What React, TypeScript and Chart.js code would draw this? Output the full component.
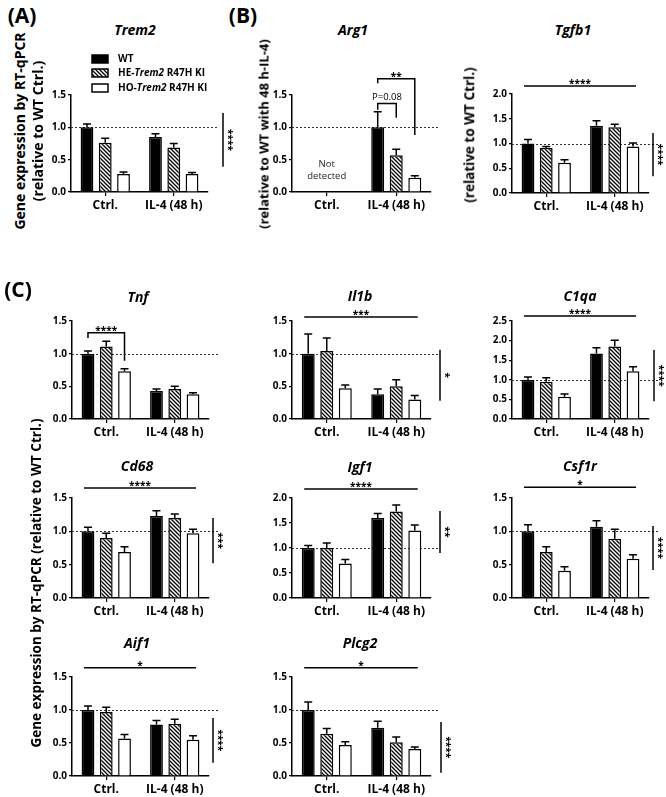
import React, { useEffect, useRef } from 'react';
import { Chart, registerables } from 'chart.js';

Chart.register(...registerables);

const FONT = '"Open Sans", "DejaVu Sans", sans-serif';

// ---------- data ----------
const categories = ['Ctrl.', 'IL-4 (48 h)'];
const genotypes = ['WT', 'HE-Trem2 R47H KI', 'HO-Trem2 R47H KI'];

// rows: WT, HE, HO ; columns: Ctrl., IL-4 (48 h)
const trem2Mean = [[1.0, 0.85], [0.76, 0.69], [0.28, 0.28]];
const trem2Sem = [[0.05, 0.05], [0.07, 0.06], [0.03, 0.02]];

const arg1Mean = [[null, 1.0], [null, 0.57], [null, 0.22]];
const arg1Sem = [[null, 0.24], [null, 0.09], [null, 0.03]];

const tgfb1Mean = [[1.0, 1.36], [0.91, 1.33], [0.61, 0.94]];
const tgfb1Sem = [[0.08, 0.1], [0.03, 0.06], [0.06, 0.07]];

const tnfMean = [[1.0, 0.43], [1.11, 0.46], [0.73, 0.38]];
const tnfSem = [[0.04, 0.03], [0.08, 0.04], [0.04, 0.02]];

const il1bMean = [[1.0, 0.38], [1.04, 0.5], [0.47, 0.3]];
const il1bSem = [[0.3, 0.08], [0.2, 0.1], [0.05, 0.06]];

const c1qaMean = [[1.0, 1.67], [0.95, 1.85], [0.57, 1.22]];
const c1qaSem = [[0.07, 0.15], [0.1, 0.16], [0.07, 0.11]];

const cd68Mean = [[1.0, 1.23], [0.9, 1.2], [0.69, 0.97]];
const cd68Sem = [[0.06, 0.08], [0.07, 0.06], [0.08, 0.06]];

const igf1Mean = [[1.0, 1.6], [1.0, 1.73], [0.69, 1.35]];
const igf1Sem = [[0.05, 0.09], [0.1, 0.13], [0.08, 0.11]];

const csf1rMean = [[1.0, 1.07], [0.69, 0.89], [0.41, 0.59]];
const csf1rSem = [[0.1, 0.09], [0.08, 0.14], [0.06, 0.06]];

const aif1Mean = [[1.0, 0.78], [0.97, 0.79], [0.57, 0.55]];
const aif1Sem = [[0.06, 0.06], [0.07, 0.07], [0.06, 0.06]];

const plcg2Mean = [[1.0, 0.73], [0.64, 0.51], [0.47, 0.41]];
const plcg2Sem = [[0.12, 0.1], [0.08, 0.08], [0.05, 0.03]];

// ---------- layout ----------
const YW = 34; // y axis box width
const XH = 26; // x axis box height
const PT = 48; // room above plot
const PR = 40; // room right of plot

type Bracket = { cat: number; a: number; b: number; top: number; legA: number; legB: number; text: string; stars: boolean };
type PanelCfg = {
  key: string;
  title: string;
  titleX: number;
  titleY: number;
  axisX: number;
  yTop: number;
  plotW: number;
  plotH: number;
  max: number;
  mean: (number | null)[][];
  sem: (number | null)[][];
  hline?: { y: number; text: string };
  vline?: { from: number; to: number; text: string; dx: number };
  brackets?: Bracket[];
  note?: { cat: number; ys: number[]; lines: string[] };
  legend?: boolean;
};

const panels: PanelCfg[] = [
  { key: 'trem2', title: 'Trem2', titleX: 135, titleY: 30, axisX: 71, yTop: 95, plotW: 137, plotH: 97, max: 1.5,
    mean: trem2Mean, sem: trem2Sem, vline: { from: 1.22, to: 0.39, text: '****', dx: 15 }, legend: true },
  { key: 'arg1', title: 'Arg1', titleX: 353, titleY: 30, axisX: 292, yTop: 95, plotW: 139, plotH: 97, max: 1.5,
    mean: arg1Mean, sem: arg1Sem,
    brackets: [
      { cat: 1, a: 0, b: 1, top: 1.37, legA: 1.27, legB: 1.15, text: 'P=0.08', stars: false },
      { cat: 1, a: 0, b: 2, top: 1.75, legA: 1.68, legB: 0.88, text: '**', stars: true },
    ],
    note: { cat: 0, ys: [0.43, 0.25], lines: ['Not', 'detected'] } },
  { key: 'tgfb1', title: 'Tgfb1', titleX: 573, titleY: 30, axisX: 512, yTop: 94, plotW: 137, plotH: 99, max: 2.0,
    mean: tgfb1Mean, sem: tgfb1Sem, hline: { y: 2.16, text: '****' }, vline: { from: 1.21, to: 0.34, text: '****', dx: 4 } },
  { key: 'tnf', title: 'Tnf', titleX: 138, titleY: 297, axisX: 72, yTop: 321, plotW: 137, plotH: 98, max: 1.5,
    mean: tnfMean, sem: tnfSem, brackets: [{ cat: 0, a: 0, b: 2, top: 1.32, legA: 1.24, legB: 0.89, text: '****', stars: true }] },
  { key: 'il1b', title: 'Il1b', titleX: 360, titleY: 296, axisX: 292, yTop: 321, plotW: 139, plotH: 98, max: 1.5,
    mean: il1bMean, sem: il1bSem, hline: { y: 1.56, text: '***' }, vline: { from: 1.06, to: 0.28, text: '*', dx: 9 } },
  { key: 'c1qa', title: 'C1qa', titleX: 580, titleY: 296, axisX: 512, yTop: 321, plotW: 137, plotH: 98, max: 2.5,
    mean: c1qaMean, sem: c1qaSem, hline: { y: 2.63, text: '****' }, vline: { from: 1.76, to: 0.45, text: '****', dx: 5 } },
  { key: 'cd68', title: 'Cd68', titleX: 137, titleY: 466, axisX: 72, yTop: 498, plotW: 137, plotH: 100, max: 1.5,
    mean: cd68Mean, sem: cd68Sem, hline: { y: 1.65, text: '****' }, vline: { from: 1.2, to: 0.52, text: '***', dx: 4 } },
  { key: 'igf1', title: 'Igf1', titleX: 360, titleY: 467, axisX: 292, yTop: 498, plotW: 139, plotH: 100, max: 2.0,
    mean: igf1Mean, sem: igf1Sem, hline: { y: 2.18, text: '****' }, vline: { from: 1.74, to: 0.9, text: '**', dx: 9 } },
  { key: 'csf1r', title: 'Csf1r', titleX: 580, titleY: 466, axisX: 512, yTop: 498, plotW: 137, plotH: 100, max: 1.5,
    mean: csf1rMean, sem: csf1rSem, hline: { y: 1.66, text: '*' }, vline: { from: 1.08, to: 0.42, text: '****', dx: 4 } },
  { key: 'aif1', title: 'Aif1', titleX: 137, titleY: 643, axisX: 72, yTop: 677, plotW: 137, plotH: 99, max: 1.5,
    mean: aif1Mean, sem: aif1Sem, hline: { y: 1.64, text: '*' }, vline: { from: 0.88, to: 0.2, text: '****', dx: 4 } },
  { key: 'plcg2', title: 'Plcg2', titleX: 360, titleY: 643, axisX: 292, yTop: 677, plotW: 139, plotH: 99, max: 1.5,
    mean: plcg2Mean, sem: plcg2Sem, hline: { y: 1.64, text: '*' }, vline: { from: 0.82, to: 0.05, text: '****', dx: 10 } },
];

function makeHatch(ctx: CanvasRenderingContext2D) {
  const t = document.createElement('canvas');
  t.width = 4;
  t.height = 4;
  const g = t.getContext('2d')!;
  g.fillStyle = '#fff';
  g.fillRect(0, 0, 4, 4);
  g.strokeStyle = '#000';
  g.lineWidth = 1.3;
  g.beginPath();
  g.moveTo(-1, -1);
  g.lineTo(5, 5);
  g.moveTo(-1, 3);
  g.lineTo(1, 5);
  g.moveTo(3, -1);
  g.lineTo(5, 1);
  g.stroke();
  return ctx.createPattern(t, 'repeat')!;
}

function drawMixed(ctx: CanvasRenderingContext2D, x: number, y: number, label: string, size: number) {
  const parts = label.split(/(Trem2)/);
  let cx = x;
  for (const p of parts) {
    if (!p) continue;
    const it = p === 'Trem2';
    ctx.font = `${it ? 'italic ' : ''}bold ${size}px ${FONT}`;
    ctx.fillText(p, cx, y);
    cx += ctx.measureText(p).width;
  }
}

function makeAnno(cfg: PanelCfg) {
  return {
    id: 'anno',
    beforeDatasetsDraw(chart: any) {
      const ctx: CanvasRenderingContext2D = chart.ctx;
      const y = chart.scales.y;
      const a = chart.chartArea;
      const py = Math.round(y.getPixelForValue(1)) + 0.5;
      ctx.save();
      ctx.strokeStyle = '#333';
      ctx.lineWidth = 1;
      ctx.setLineDash([2, 2]);
      ctx.beginPath();
      ctx.moveTo(a.left, py);
      ctx.lineTo(a.right + 9, py);
      ctx.stroke();
      ctx.restore();
    },
    afterDatasetsDraw(chart: any) {
      const ctx: CanvasRenderingContext2D = chart.ctx;
      const ys = chart.scales.y;
      const a = chart.chartArea;
      const P = (v: number) => ys.getPixelForValue(v);
      const bx = (ds: number, cat: number) => chart.getDatasetMeta(ds).data[cat].x as number;
      ctx.save();
      ctx.strokeStyle = '#000';
      ctx.fillStyle = '#000';
      ctx.lineWidth = 1.5;
      // error bars
      cfg.mean.forEach((row, ds) => {
        const meta = chart.getDatasetMeta(ds);
        row.forEach((m, i) => {
          if (m == null) return;
          const s = cfg.sem[ds][i] ?? 0;
          const el = meta.data[i];
          const yt = P(m + s);
          ctx.beginPath();
          ctx.moveTo(el.x, el.y);
          ctx.lineTo(el.x, yt);
          ctx.moveTo(el.x - 4, yt);
          ctx.lineTo(el.x + 4, yt);
          ctx.stroke();
        });
      });
      // horizontal significance line
      if (cfg.hline) {
        const x1 = bx(0, 0) - 4;
        const x2 = bx(2, 1) + 3;
        const yy = P(cfg.hline.y);
        ctx.beginPath();
        ctx.moveTo(x1, yy);
        ctx.lineTo(x2, yy);
        ctx.stroke();
        ctx.font = `bold 10px ${FONT}`;
        ctx.textAlign = 'center';
        ctx.textBaseline = 'alphabetic';
        ctx.fillText(cfg.hline.text, (x1 + x2) / 2, yy + 1);
      }
      // vertical significance line
      if (cfg.vline) {
        const x = a.right + cfg.vline.dx;
        const y1 = P(cfg.vline.from);
        const y2 = P(cfg.vline.to);
        ctx.beginPath();
        ctx.moveTo(x, y1);
        ctx.lineTo(x, y2);
        ctx.stroke();
        ctx.save();
        ctx.translate(x + 5, (y1 + y2) / 2);
        ctx.rotate(Math.PI / 2);
        ctx.font = `bold 10px ${FONT}`;
        ctx.textAlign = 'center';
        ctx.textBaseline = 'middle';
        ctx.fillText(cfg.vline.text, 0, 0);
        ctx.restore();
      }
      // brackets
      (cfg.brackets || []).forEach((b) => {
        const xa = bx(b.a, b.cat);
        const xb = bx(b.b, b.cat);
        const yt = P(b.top);
        ctx.beginPath();
        ctx.moveTo(xa, P(b.legA));
        ctx.lineTo(xa, yt);
        ctx.lineTo(xb, yt);
        ctx.lineTo(xb, P(b.legB));
        ctx.stroke();
        ctx.textAlign = 'center';
        ctx.textBaseline = 'alphabetic';
        if (b.stars) {
          ctx.font = `bold 10px ${FONT}`;
          ctx.fillText(b.text, (xa + xb) / 2, yt + 1);
        } else {
          ctx.font = `9.5px ${FONT}`;
          ctx.fillText(b.text, (xa + xb) / 2, yt - 3);
        }
      });
      // note text
      if (cfg.note) {
        const x = chart.scales.x.getPixelForValue(cfg.note.cat);
        ctx.font = `9.5px ${FONT}`;
        ctx.fillStyle = '#222';
        ctx.textAlign = 'center';
        ctx.textBaseline = 'middle';
        cfg.note.lines.forEach((t, i) => ctx.fillText(t, x, P(cfg.note!.ys[i])));
      }
      // legend
      if (cfg.legend) {
        const rows = [-36, -22, -7];
        chart.data.datasets.forEach((d: any, i: number) => {
          const cy = a.top + rows[i];
          ctx.fillStyle = d.backgroundColor;
          ctx.fillRect(a.left + 21, cy - 4, 16, 8);
          ctx.lineWidth = 1.5;
          ctx.strokeStyle = '#000';
          ctx.strokeRect(a.left + 21, cy - 4, 16, 8);
          ctx.fillStyle = '#000';
          ctx.textAlign = 'left';
          ctx.textBaseline = 'middle';
          drawMixed(ctx, a.left + 47, cy, d.label, 10);
        });
      }
      ctx.restore();
    },
  };
}

function Panel({ cfg }: { cfg: PanelCfg }) {
  const ref = useRef<HTMLCanvasElement>(null);
  const W = YW + cfg.plotW + PR;
  const H = PT + cfg.plotH + XH;
  useEffect(() => {
    const canvas = ref.current!;
    const ctx = canvas.getContext('2d')!;
    const fills: any[] = ['#000', makeHatch(ctx), '#fff'];
    const chart = new Chart(canvas, {
      type: 'bar',
      data: {
        labels: categories,
        datasets: genotypes.map((g, i) => ({
          label: g,
          data: cfg.mean[i] as any,
          backgroundColor: fills[i],
          borderColor: '#000',
          borderWidth: 1.5,
          categoryPercentage: 0.8,
          barPercentage: 0.7,
        })),
      },
      options: {
        responsive: false,
        animation: false,
        devicePixelRatio: 1,
        events: [],
        layout: { padding: { left: 0, top: PT, right: PR, bottom: 0 } },
        plugins: { legend: { display: false }, tooltip: { enabled: false }, title: { display: false } },
        scales: {
          x: {
            type: 'category',
            offset: true,
            grid: { display: true, drawOnChartArea: false, drawTicks: true, tickLength: 4, offset: false, color: '#000', lineWidth: 1.2 },
            border: { display: true, color: '#000', width: 1.5 },
            ticks: { font: { family: FONT, size: 12, weight: 'bold' }, color: '#000', padding: 2, maxRotation: 0, autoSkip: false },
            afterFit: (s: any) => { s.height = XH; },
          } as any,
          y: {
            min: 0,
            max: cfg.max,
            ticks: { stepSize: 0.5, font: { family: FONT, size: 10, weight: 'bold' }, color: '#000', padding: 2, callback: (v: any) => Number(v).toFixed(1) },
            grid: { display: true, drawOnChartArea: false, drawTicks: true, tickLength: 3, color: '#000', lineWidth: 1.2 },
            border: { display: true, color: '#000', width: 1.5 },
            afterFit: (s: any) => { s.width = YW; },
          } as any,
        },
      },
      plugins: [makeAnno(cfg) as any],
    });
    return () => chart.destroy();
  }, [cfg]);
  return (
    <canvas
      ref={ref}
      width={W}
      height={H}
      style={{ position: 'absolute', left: cfg.axisX - YW, top: cfg.yTop - PT, width: W, height: H }}
    />
  );
}

function Txt(props: { x: number; y: number; text: string; size: number; italic?: boolean; rotate?: boolean; weight?: string }) {
  const { x, y, text, size, italic, rotate, weight = 'bold' } = props;
  return (
    <div
      style={{
        position: 'absolute',
        left: x,
        top: y,
        transform: `translate(-50%, -50%)${rotate ? ' rotate(-90deg)' : ''}`,
        whiteSpace: 'nowrap',
        fontFamily: FONT,
        fontSize: size,
        fontWeight: weight as any,
        fontStyle: italic ? 'italic' : 'normal',
        lineHeight: 1,
        color: '#000',
      }}
    >
      {text}
    </div>
  );
}

export default function App() {
  return (
    <div style={{ position: 'absolute', left: 0, top: 0, width: 666, height: 797, background: '#fff', overflow: 'hidden' }}>
      {panels.map((p) => (
        <Panel key={p.key} cfg={p} />
      ))}
      {panels.map((p) => (
        <Txt key={'t' + p.key} x={p.titleX} y={p.titleY} text={p.title} size={14} italic />
      ))}
      <Txt x={22} y={15} text="(A)" size={21} />
      <Txt x={243} y={15} text="(B)" size={21} />
      <Txt x={18} y={289} text="(C)" size={21} />
      <Txt x={20} y={131} text="Gene expression by RT-qPCR" size={14} rotate />
      <Txt x={38} y={131} text="(relative to WT Ctrl.)" size={14} rotate />
      <Txt x={264} y={134} text="(relative to WT with 48 h-IL-4)" size={13} rotate />
      <Txt x={470} y={135} text="(relative to WT Ctrl.)" size={13.5} rotate />
      <Txt x={37} y={583} text="Gene expression by RT-qPCR (relative to WT Ctrl.)" size={13.5} rotate />
    </div>
  );
}
